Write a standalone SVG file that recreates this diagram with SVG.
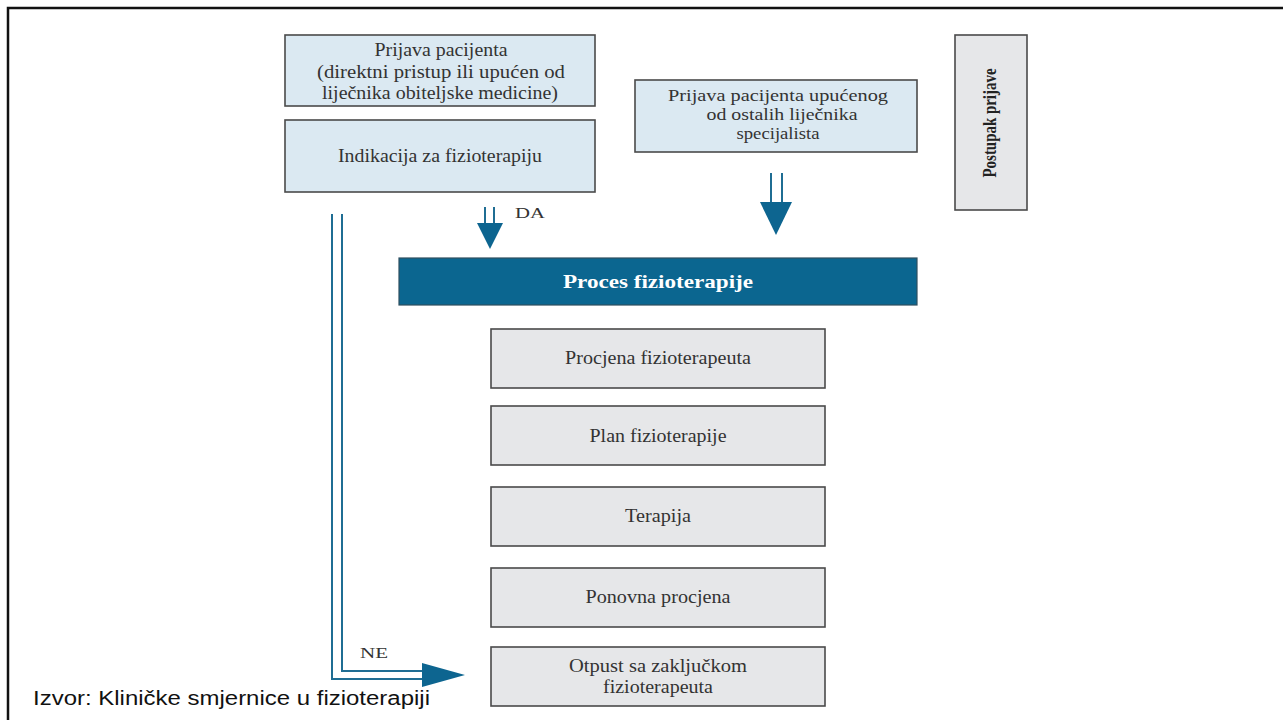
<svg xmlns="http://www.w3.org/2000/svg" width="1283" height="720" viewBox="0 0 1283 720">
<defs>
<style>
.blue{fill:#dbe9f2;stroke:#4a4a4a;stroke-width:1.6}
.grey{fill:#e6e7e9;stroke:#4a4a4a;stroke-width:1.6}
.t{font-family:"Liberation Serif",serif;font-size:18px;fill:#333;text-anchor:middle}
.lbl{font-family:"Liberation Serif",serif;font-size:14px;fill:#333}
.ln{fill:none;stroke:#1f6d93;stroke-width:2}
.head{fill:#0d6590}
</style>
</defs>
<rect width="1283" height="720" fill="#fff"/>
<path d="M8 720 V8 H1283" fill="none" stroke="#111" stroke-width="2.5"/>

<g id="n1">
<rect class="blue" x="285" y="35" width="310" height="71"/>
<text class="t" x="441" y="56" textLength="133" lengthAdjust="spacingAndGlyphs">Prijava pacijenta</text>
<text class="t" x="441" y="78" textLength="248" lengthAdjust="spacingAndGlyphs">(direktni pristup ili upućen od</text>
<text class="t" x="440" y="99" textLength="236" lengthAdjust="spacingAndGlyphs">liječnika obiteljske medicine)</text>
</g>
<g id="n2">
<rect class="blue" x="285" y="120" width="310" height="72"/>
<text class="t" x="440" y="162" textLength="204" lengthAdjust="spacingAndGlyphs">Indikacija za fizioterapiju</text>
</g>
<g id="n3">
<rect class="blue" x="635" y="80" width="282" height="72"/>
<text class="t" x="778" y="101" style="font-size:17px" textLength="220" lengthAdjust="spacingAndGlyphs">Prijava pacijenta upućenog</text>
<text class="t" x="782" y="120" style="font-size:17px" textLength="151" lengthAdjust="spacingAndGlyphs">od ostalih liječnika</text>
<text class="t" x="778" y="139" style="font-size:17px" textLength="83" lengthAdjust="spacingAndGlyphs">specijalista</text>
</g>
<g id="n4">
<rect class="grey" x="955" y="35" width="72" height="175"/>
<text class="t" transform="translate(996 123) rotate(-90) scale(1,1.2)" style="font-size:15px;font-weight:bold;fill:#222" textLength="109" lengthAdjust="spacingAndGlyphs">Postupak prijave</text>
</g>
<g id="n5">
<rect x="399" y="258" width="518" height="47" fill="#0b6690" stroke="#2f4f5f" stroke-width="1.2"/>
<text class="t" x="658" y="288" style="font-weight:bold;fill:#fff" textLength="190" lengthAdjust="spacingAndGlyphs">Proces fizioterapije</text>
</g>
<g id="n6">
<rect class="grey" x="491" y="329" width="334" height="59"/>
<text class="t" x="658" y="364" textLength="186" lengthAdjust="spacingAndGlyphs">Procjena fizioterapeuta</text>
</g>
<g id="n7">
<rect class="grey" x="491" y="406" width="334" height="59"/>
<text class="t" x="658" y="442" textLength="137" lengthAdjust="spacingAndGlyphs">Plan fizioterapije</text>
</g>
<g id="n8">
<rect class="grey" x="491" y="487" width="334" height="59"/>
<text class="t" x="658" y="522" textLength="66" lengthAdjust="spacingAndGlyphs">Terapija</text>
</g>
<g id="n9">
<rect class="grey" x="491" y="568" width="334" height="59"/>
<text class="t" x="658" y="603" textLength="145" lengthAdjust="spacingAndGlyphs">Ponovna procjena</text>
</g>
<g id="n10">
<rect class="grey" x="491" y="647" width="334" height="59"/>
<text class="t" x="658" y="672" textLength="178" lengthAdjust="spacingAndGlyphs">Otpust sa zaključkom</text>
<text class="t" x="658" y="693" textLength="110" lengthAdjust="spacingAndGlyphs">fizioterapeuta</text>
</g>

<g id="connectors">
<line class="ln" x1="485" y1="207" x2="485" y2="224"/>
<line class="ln" x1="494" y1="207" x2="494" y2="224"/>
<polygon class="head" points="477,223 503,223 490,249"/>
<text class="lbl" x="515" y="218" textLength="30" lengthAdjust="spacingAndGlyphs">DA</text>

<line class="ln" x1="771" y1="173" x2="771" y2="203"/>
<line class="ln" x1="782" y1="173" x2="782" y2="203"/>
<polygon class="head" points="760,202 792,202 776,235"/>

<path class="ln" d="M332 214 V679 H423"/>
<path class="ln" d="M342 214 V671 H423"/>
<polygon class="head" points="422,663 465,675 422,687"/>
<text class="lbl" x="360" y="658" textLength="28" lengthAdjust="spacingAndGlyphs">NE</text>
</g>

<text x="33" y="705" font-family="Liberation Sans, Arial, sans-serif" font-size="20" fill="#111" textLength="397" lengthAdjust="spacingAndGlyphs">Izvor: Kliničke smjernice u fizioterapiji</text>
</svg>
